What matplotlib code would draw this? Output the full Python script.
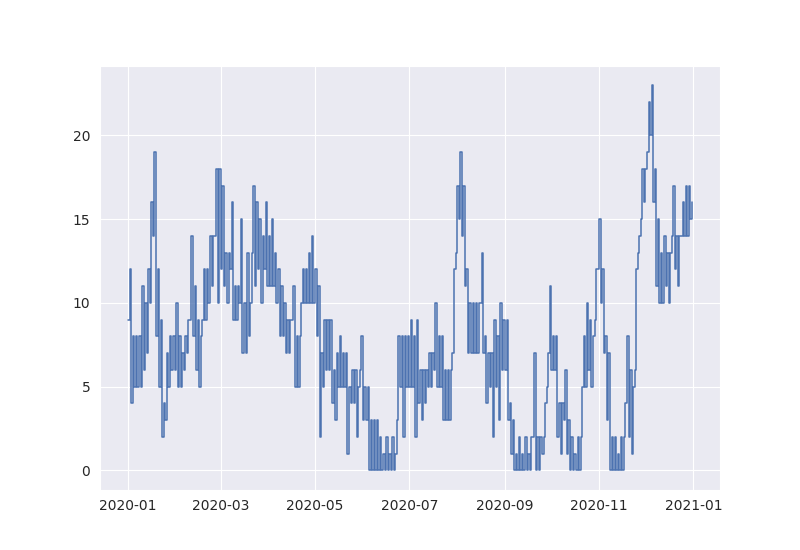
import matplotlib
matplotlib.use("Agg")
import matplotlib.pyplot as plt
import matplotlib.dates as mdates
import seaborn as sns
import pandas as pd

sns.set_style("darkgrid")

# Two-day buckets through 2020: low and high value read in each bucket
lo = [9, 4, 5, 5, 5, 6, 7, 10, 14, 8, 5, 2, 3, 5, 6, 6, 5, 5, 6, 7,
      9, 8, 6, 5, 9, 9, 10, 11, 14, 10, 12, 11, 10, 12, 9, 9, 10, 7, 7, 8,
      13, 11, 12, 10, 12, 11, 11, 11, 10, 8, 8, 7, 7, 9, 5, 5, 10, 10, 10, 10,
      10, 8, 2, 5, 6, 6, 4, 3, 5, 5, 5, 1, 4, 4, 2, 6, 3, 3, 0, 0,
      0, 0, 0, 0, 0, 0, 0, 3, 5, 2, 5, 5, 5, 2, 4, 3, 4, 5, 5, 6,
      5, 5, 3, 3, 3, 7, 13, 15, 14, 11, 7, 7, 7, 7, 10, 7, 4, 5, 2, 5,
      3, 6, 6, 3, 1, 0, 0, 0, 0, 0, 0, 2, 0, 0, 1, 4, 7, 6, 6, 2,
      1, 3, 1, 0, 0, 0, 0, 5, 5, 6, 5, 9, 12, 10, 7, 3, 0, 0, 0, 0,
      0, 4, 2, 1, 6, 13, 15, 16, 19, 20, 16, 11, 10, 10, 11, 10, 14, 12, 11, 14,
      14, 14, 15]
hi = [12, 8, 8, 8, 11, 10, 12, 16, 19, 12, 9, 4, 7, 8, 8, 10, 8, 7, 8, 9,
      14, 11, 9, 8, 12, 12, 14, 14, 18, 18, 17, 13, 13, 16, 11, 11, 15, 10, 13, 10,
      17, 16, 15, 14, 16, 14, 15, 13, 12, 11, 10, 9, 9, 11, 8, 8, 12, 12, 13, 14,
      12, 11, 7, 9, 9, 9, 6, 7, 8, 7, 7, 5, 6, 6, 5, 8, 5, 5, 3, 3,
      3, 2, 1, 2, 1, 2, 1, 8, 8, 8, 8, 9, 8, 9, 6, 6, 6, 7, 7, 10,
      8, 8, 6, 6, 6, 12, 17, 19, 17, 12, 10, 10, 10, 10, 13, 8, 7, 7, 9, 8,
      10, 9, 9, 4, 3, 1, 2, 1, 2, 1, 2, 7, 2, 2, 2, 5, 11, 8, 8, 4,
      4, 6, 3, 2, 1, 2, 2, 8, 10, 9, 8, 12, 15, 12, 8, 7, 2, 2, 1, 2,
      2, 8, 6, 5, 12, 14, 18, 18, 22, 23, 18, 15, 13, 14, 13, 13, 17, 14, 14, 16,
      17, 17, 16]

start = pd.Timestamp("2020-01-01")
times = []
vals = []
for i, (a, b) in enumerate(zip(lo, hi)):
    times.append(start + pd.Timedelta(days=2 * i))
    vals.append(a)
    times.append(start + pd.Timedelta(days=2 * i + 1))
    vals.append(b)

fig, ax = plt.subplots(figsize=(8, 5.5), dpi=100)
ax.plot(times, vals, color="#4c72b0", lw=1.1, drawstyle="steps-post")
ax.xaxis.set_major_locator(mdates.MonthLocator(bymonth=[1, 3, 5, 7, 9, 11]))
ax.xaxis.set_major_formatter(mdates.DateFormatter("%Y-%m"))
ax.set_yticks([0, 5, 10, 15, 20])
fig.savefig("out.png", dpi=100)
